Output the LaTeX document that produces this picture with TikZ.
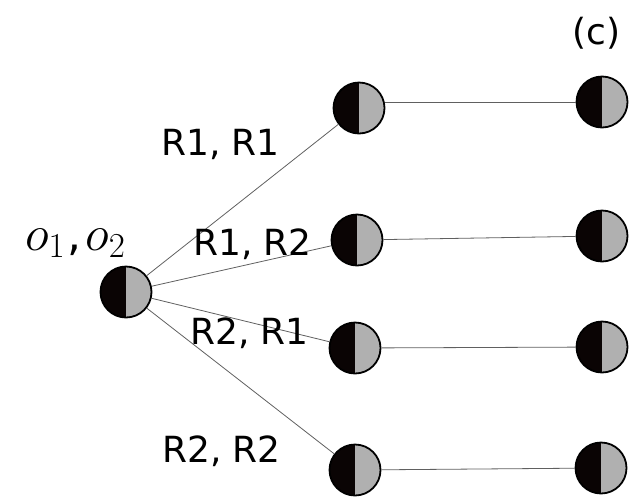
\RequirePackage{fix-cm}
\documentclass[tikz,border=0pt]{standalone}
\usepackage{fontspec}
\setmainfont{DejaVu Sans}
\definecolor{halfdark}{HTML}{0A0404}
\definecolor{halflight}{HTML}{B0B0B0}
\definecolor{edgegray}{HTML}{606060}
\tikzset{
  state/.style={circle, draw=black, line width=1.8pt, minimum size=51pt,
    inner sep=0pt, fill=halflight,
    path picture={\fill[halfdark] (path picture bounding box.south west)
      rectangle (path picture bounding box.north);}},
  branch/.style={draw=edgegray, line width=0.8pt},
  lbl/.style={inner sep=0pt, anchor=base west, font=\fontsize{36}{40}\selectfont},
}
\begin{document}
\begin{tikzpicture}[x=1pt, y=-1pt]
  \useasboundingbox (0,0) rectangle (631,496);

  % root and the two columns of successor states
  \node[state] (root) at (126,292) {};
  \node[state] (m1) at (359,108) {};
  \node[state] (m2) at (357,240) {};
  \node[state] (m3) at (355,348) {};
  \node[state] (m4) at (355,470) {};
  \node[state] (r1) at (602,102) {};
  \node[state] (r2) at (602,236) {};
  \node[state] (r3) at (602,347) {};
  \node[state] (r4) at (601,468) {};

  % branches from the root
  \draw[branch] (root) -- (m1);
  \draw[branch] (root) -- (m2);
  \draw[branch] (root) -- (m3);
  \draw[branch] (root) -- (m4);

  % continuations to the right
  \draw[branch] (r1.west) -- (r1.west -| m1.east);
  \draw[branch] (m2) -- (r2);
  \draw[branch] (m3) -- (r3);
  \draw[branch] (m4) -- (r4);

  % labels
  \node[lbl] (l11) at (161,155) {R1, R1};
  \node[lbl] (l12) at (193,255) {R1, R2};
  \node[lbl] (l21) at (190,344) {R2, R1};
  \node[lbl] (l22) at (162,462) {R2, R2};
  \node[lbl] (tag) at (572,44) {(c)};
  \node[inner sep=0pt, anchor=base west, font=\fontsize{50}{54}\selectfont]
    (obs) at (25,250)
    {$o_1$\hspace{2pt}{\fontsize{44}{48}\selectfont,}\hspace{4pt}$o_2$};
\end{tikzpicture}
\end{document}
